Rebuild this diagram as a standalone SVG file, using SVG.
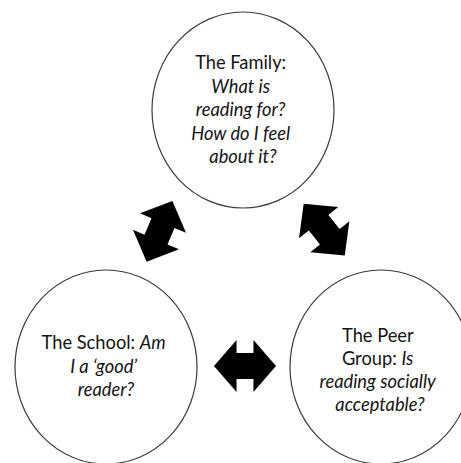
<svg xmlns="http://www.w3.org/2000/svg" xmlns:xlink="http://www.w3.org/1999/xlink" width="461" height="463" viewBox="0 0 461 463">
  <style>
    .node { fill: #ffffff; stroke: #3c3c3c; stroke-width: 1.2; }
    .label { font-family: "Lato", "Liberation Sans", sans-serif; font-size: 18.3px; fill: #141414; text-anchor: middle; }
    .q { font-style: italic; }
    .conn { fill: #000000; }
  </style>
  <defs>
    <!-- block double-headed arrow, vertical, centred on the origin -->
    <path id="dbl" d="M0,-33 L25,-9 L12.5,-9 L12.5,9 L25,9 L0,33 L-25,9 L-12.5,9 L-12.5,-9 L-25,-9 Z"/>
  </defs>
  <rect width="461" height="463" fill="#ffffff"/>

  <g id="family">
    <ellipse class="node" cx="243" cy="110" rx="91" ry="98"/>
    <text class="label">
      <tspan x="243" y="69">The Family:</tspan>
      <tspan x="243" y="92.5" class="q">What is</tspan>
      <tspan x="243" y="116" class="q">reading for?</tspan>
      <tspan x="243" y="139.5" class="q">How do I feel</tspan>
      <tspan x="243" y="163" class="q">about it?</tspan>
    </text>
  </g>

  <g id="school">
    <ellipse class="node" cx="106" cy="367" rx="91" ry="97"/>
    <text class="label">
      <tspan x="106" y="349">The School: <tspan class="q">Am</tspan></tspan>
      <tspan x="106" y="372.5" class="q">I a ‘good’</tspan>
      <tspan x="106" y="396" class="q">reader?</tspan>
    </text>
  </g>

  <g id="peer-group">
    <ellipse class="node" cx="381" cy="367" rx="91" ry="97"/>
    <text class="label">
      <tspan x="380" y="342">The Peer</tspan>
      <tspan x="380" y="365">Group: <tspan class="q">Is</tspan></tspan>
      <tspan x="380" y="388" class="q">reading socially</tspan>
      <tspan x="380" y="411" class="q">acceptable?</tspan>
    </text>
  </g>

  <g id="connectors" class="conn">
    <use xlink:href="#dbl" transform="translate(159.5,231.3) rotate(23)"/>
    <use xlink:href="#dbl" transform="translate(324.2,229.7) rotate(-38.5)"/>
    <use xlink:href="#dbl" transform="translate(245,366) rotate(90) scale(1.04,0.94)"/>
  </g>
</svg>
